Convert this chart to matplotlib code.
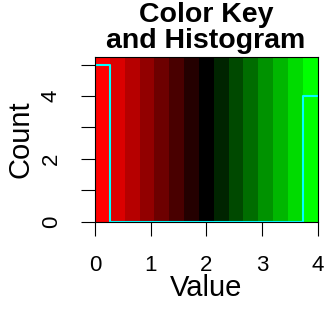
import numpy as np
import matplotlib
matplotlib.use("Agg")
import matplotlib.pyplot as plt

plt.rcParams['font.family'] = ['Liberation Sans', 'DejaVu Sans']

# Data
value_min, value_max = 0, 4
key_colors = ["#FF0000", "#DB0000", "#B60000", "#920000", "#6D0000", "#490000",
              "#240000", "#000000", "#002400", "#004900", "#006D00", "#009200",
              "#00B600", "#00DB00", "#00FF00"]
hist_counts = [5, 0, 0, 0, 0, 0, 0, 0, 0, 0, 0, 0, 0, 0, 4]
x_ticks = [0, 1, 2, 3, 4]
y_ticks = [0, 1, 2, 3, 4, 5]
y_tick_labels = ["0", "", "2", "", "4", ""]
title_lines = ["Color Key", "and Histogram"]
xlabel = "Value"
ylabel = "Count"

W, H = 326, 309
fig = plt.figure(figsize=(W / 100, H / 100), dpi=100)
ax = fig.add_axes([95 / W, (H - 221.7) / H, 222.7 / W, 165 / H])

edges = np.linspace(value_min, value_max, len(key_colors) + 1)
for i, c in enumerate(key_colors):
    ax.axvspan(edges[i], edges[i + 1], color=c, lw=0)

ax.step(edges, hist_counts + [hist_counts[-1]], where='post', color='#00FFFF', lw=1.5)

ax.set_xlim(value_min, value_max)
ax.set_ylim(0, max(hist_counts) * 1.05)

ax.set_xticks(x_ticks)
ax.set_xticklabels([str(t) for t in x_ticks])
ax.set_yticks(y_ticks)
ax.set_yticklabels(y_tick_labels, rotation=90, va='center')
ax.tick_params(axis='both', direction='out', length=10, width=0.8, color='black')
ax.tick_params(axis='x', pad=14, labelsize=16)
ax.tick_params(axis='y', pad=14, labelsize=16)
for s in ax.spines.values():
    s.set_linewidth(0.8)
    s.set_color('black')

fig.text(206 / W, 1 - 288 / H, xlabel, ha='center', va='center', fontsize=21)
fig.text(20 / W, 1 - 139 / H, ylabel, ha='center', va='center', fontsize=21, rotation=90)
fig.text(206 / W, 1 - 21.5 / H, title_lines[0], ha='center', va='baseline',
         fontsize=20.5, fontweight='bold')
fig.text(206 / W, 1 - 48.5 / H, title_lines[1], ha='center', va='baseline',
         fontsize=20.5, fontweight='bold')

fig.savefig("out.png", dpi=100)
